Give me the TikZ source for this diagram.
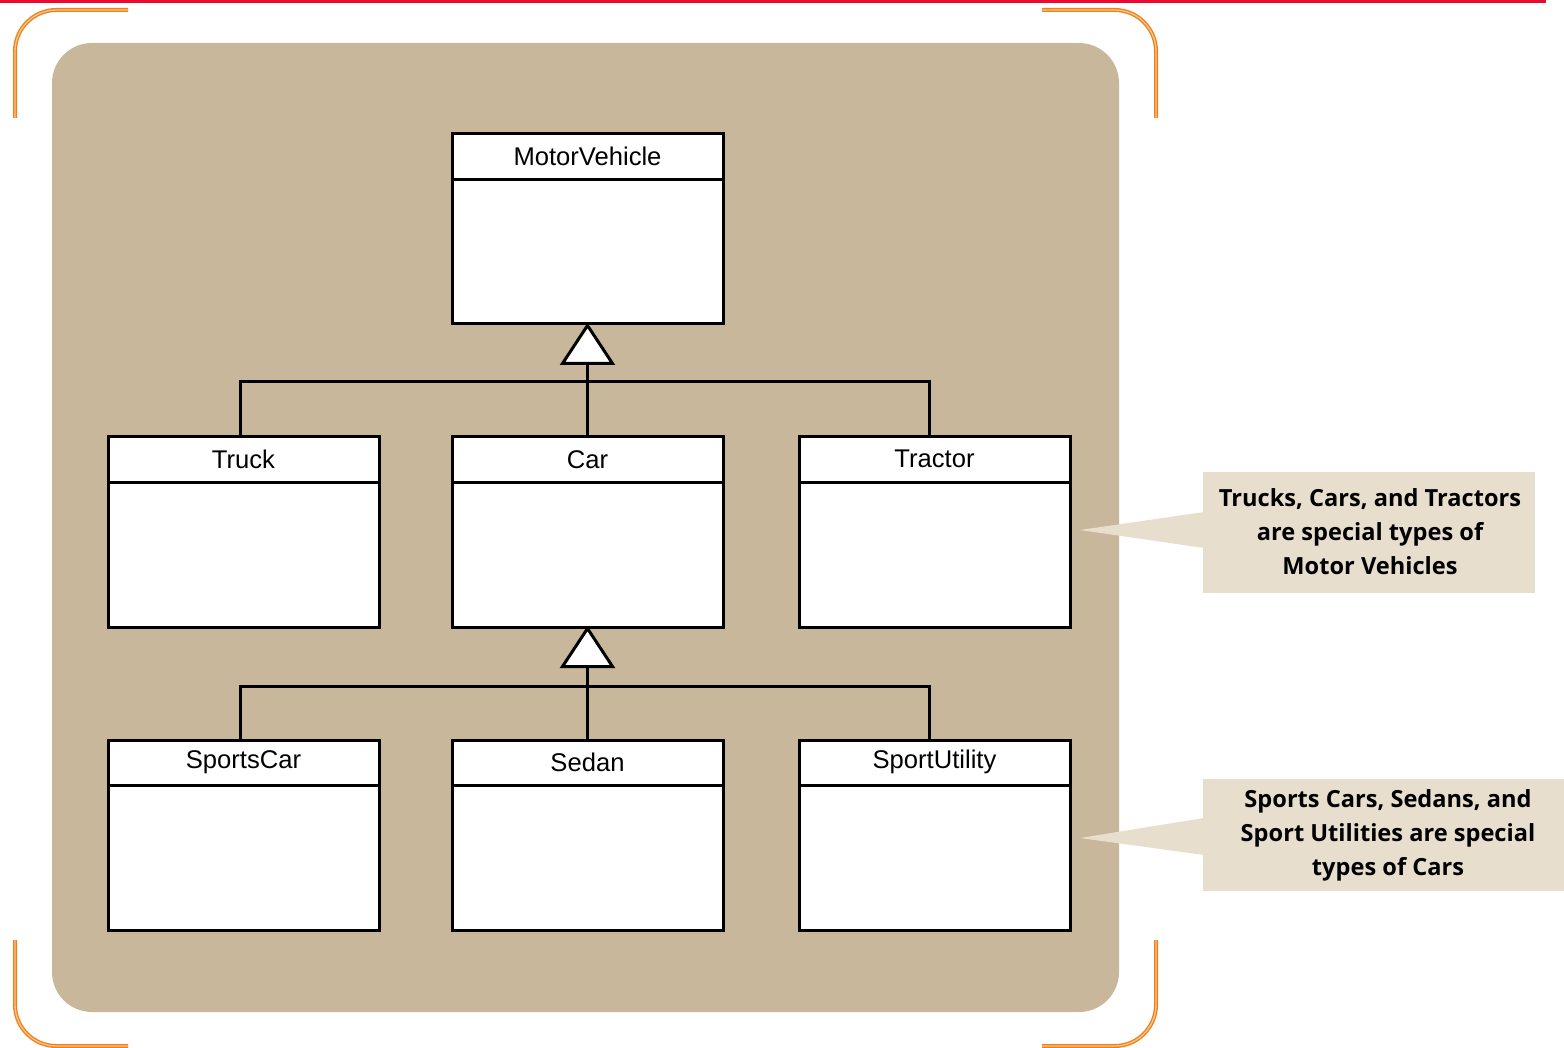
\documentclass[tikz,border=0pt]{standalone}
\usepackage{fontspec}
\setmainfont{Liberation Sans}
\newfontfamily\callfont{Open Sans}
\usetikzlibrary{calc}
\definecolor{tanbg}{RGB}{200,183,155}
\definecolor{calloutbg}{RGB}{232,222,205}
\definecolor{bracketout}{RGB}{236,128,30}
\definecolor{bracketin}{RGB}{250,196,130}
\definecolor{redline}{RGB}{235,10,50}
\tikzset{
  cls/.style={draw=black, fill=white, line width=2.25pt, minimum width=203.25pt, minimum height=142.5pt, inner sep=0pt},
  clslabel/.style={font=\fontsize{19.2}{21}\selectfont, inner sep=0pt},
  conn/.style={draw=black, line width=2.25pt},
  gentri/.style={draw=black, fill=white, line width=2.25pt, line join=miter},
  bracket/.style={draw=bracketout, double=bracketin, double distance=1pt, line width=1pt, rounded corners=31pt},
  callout/.style={fill=calloutbg, inner sep=0pt, align=center, font=\callfont\bfseries\fontsize{17.7}{25.5}\selectfont},
}
\begin{document}
\begin{tikzpicture}[x=0.75pt, y=-0.75pt]
\useasboundingbox (0,0) rectangle (1564,1048);
\fill[white] (0,0) rectangle (1564,1048);
% red top line
\fill[redline] (0,0) rectangle (1546,3);
% orange corner brackets
\draw[bracket] (15,118) -- (15,10) -- (128,10);
\draw[bracket] (1042,10) -- (1156,10) -- (1156,118);
\draw[bracket] (15,940) -- (15,1046) -- (128,1046);
\draw[bracket] (1042,1046) -- (1156,1046) -- (1156,940);
% tan background
\fill[tanbg, rounded corners=30pt] (52,43) rectangle (1119,1012);
% class boxes
\node[cls] (mv) at (587.5,229) {};
\node[cls] (truck) at (243.5,532) {};
\node[cls] (car) at (587.5,532) {};
\node[cls] (tractor) at (934.5,532) {};
\node[cls] (sports) at (243.5,835) {};
\node[cls] (sedan) at (587.5,835) {};
\node[cls] (suv) at (934.5,835) {};
\foreach \n/\t in {mv/MotorVehicle, truck/Truck, car/Car, tractor/Tractor, sports/SportsCar, sedan/Sedan, suv/SportUtility}{
  \draw[conn] ([yshift=-35.25pt]\n.north west) -- ([yshift=-35.25pt]\n.north east);
  \node[clslabel] (\n-label) at ([yshift=-17.8pt]\n.north) {\t};
}
% generalisation 1
\coordinate (t1) at ([yshift=-28.5pt]mv.south);
\coordinate (j1) at (587.5,382);
\draw[conn] (t1) -- (car.north);
\draw[conn] ([xshift=-2.6pt]truck.north) |- (j1) -| ([xshift=-4pt]tractor.north);
\draw[gentri] (mv.south) -- ([xshift=-18.75pt]t1) -- ([xshift=18.75pt]t1) -- cycle;
% generalisation 2
\coordinate (t2) at ([yshift=-28.5pt]car.south);
\coordinate (j2) at (587.5,686);
\draw[conn] (t2) -- (sedan.north);
\draw[conn] ([xshift=-2.6pt]sports.north) |- (j2) -| ([xshift=-4pt]suv.north);
\draw[gentri] (car.south) -- ([xshift=-18.75pt]t2) -- ([xshift=18.75pt]t2) -- cycle;
% callouts
\coordinate (tip1) at (1080,530);
\fill[calloutbg] (tip1) -- (1204,512) -- (1204,548) -- cycle;
\node[callout, minimum width=249pt, minimum height=90.75pt] (c1) at (1369,532.5) {};
\node[callout] (c1t) at (1370,532) {Trucks, Cars, and Tractors\\are special types of\\Motor Vehicles};
\coordinate (tip2) at (1080,838);
\fill[calloutbg] (tip2) -- (1204,818) -- (1204,855) -- cycle;
\node[callout, minimum width=270.75pt, minimum height=84pt] (c2) at (1383.5,835) {};
\node[callout] (c2t) at (1388,835) {Sports Cars, Sedans, and\\Sport Utilities are special\\types of Cars};
\end{tikzpicture}
\end{document}
